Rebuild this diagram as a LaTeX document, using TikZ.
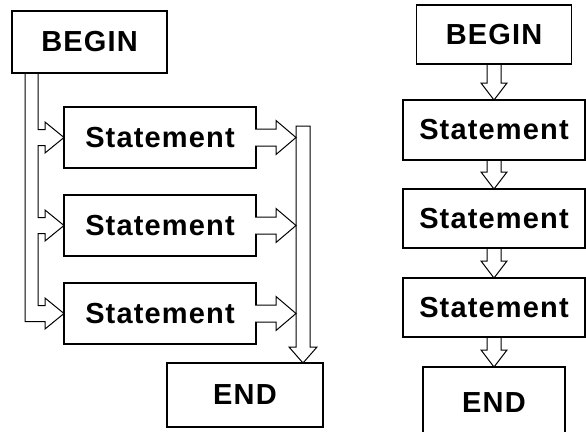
\documentclass[tikz,border=0pt]{standalone}
\usepackage{fontspec}
\setmainfont{Liberation Sans}[LetterSpace=4]
\usepackage{tikz}
\usetikzlibrary{calc,positioning}

\begin{document}
\begin{tikzpicture}[x=1pt,y=-1pt,
	  every node/.style={align=center,font=\bfseries\fontsize{29}{34}\selectfont},
	  box/.style={draw,line width=1.2pt,inner sep=0pt,outer sep=0pt},
	  hollow/.style={draw,line width=1pt,line join=miter}]

	  \useasboundingbox (0,0) rectangle (586,431);

	  % Left flowchart: statements fed in parallel
	  \node[box,minimum width=155pt,minimum height=62pt] (begin1) at (89.5,42) {BEGIN};
	  \node[box,minimum width=192pt,minimum height=61pt] (stmt1a) at (160,137.5) {Statement};
	  \node[box,minimum width=192pt,minimum height=61pt,below=27pt of stmt1a] (stmt2a) {Statement};
	  \node[box,minimum width=192pt,minimum height=61pt,below=27pt of stmt2a] (stmt3a) {Statement};
	  \node[box,minimum width=156pt,minimum height=64pt] (end1) at (245,395) {END};

	  \coordinate (chout) at ($(begin1.south west)+(13,0)$);
	  \coordinate (chin) at ($(begin1.south west)+(26,0)$);
	  \coordinate (bartop) at (303,126);

	  \draw[hollow] (chout) |- ($(stmt3a.west)+(-19,8)$) -- ++(0,7.5) -- (stmt3a.west)
	    -- ($(stmt3a.west)+(-19,-15.5)$) -- ++(0,7.5) -| ($(stmt2a.west)+(-26,8)$)
	    -- ++(7,0) -- ++(0,7.5) -- (stmt2a.west) -- ($(stmt2a.west)+(-19,-15.5)$)
	    -- ++(0,7.5) -| ($(stmt1a.west)+(-26,8)$) -- ++(7,0) -- ++(0,7.5) -- (stmt1a.west)
	    -- ($(stmt1a.west)+(-19,-15.5)$) -- ++(0,7.5) -| (chin);

	  \draw[hollow,fill=white] ($(bartop)+(-7,0)$) -- ($(bartop |- end1.north)+(-7,-16)$)
	    -- ++(-7,0) -- (bartop |- end1.north) -- ($(bartop |- end1.north)+(14,-16)$)
	    -- ++(-7,0) -- ($(bartop)+(7,0)$) -- cycle;

	  \foreach \s in {stmt1a,stmt2a,stmt3a}
	    \draw[hollow,fill=white] ($(\s.east)+(-0.8,-8.5)$) -- ($(\s.east -| bartop)+(-27,-8.5)$)
	      -- ++(0,-8.5) -- ($(\s.east -| bartop)+(-7,0)$) -- ($(\s.east -| bartop)+(-27,17)$)
	      -- ++(0,-8.5) -- ($(\s.east)+(-0.8,8.5)$);

	  % Right flowchart: statements in sequence
	  \node[box,minimum width=155pt,minimum height=59pt] (begin2) at (494,34.5) {BEGIN};
	  \node[box,minimum width=182pt,minimum height=60pt,below=36pt of begin2] (stmt1b) {Statement};
	  \node[box,minimum width=182pt,minimum height=59pt,below=29pt of stmt1b] (stmt2b) {Statement};
	  \node[box,minimum width=182pt,minimum height=59pt,below=30pt of stmt2b] (stmt3b) {Statement};
	  \node[box,minimum width=142pt,minimum height=70pt,below=30pt of stmt3b,
	        text height=21pt,text depth=0pt,yshift=0pt] (end2) {END};

	  \foreach \a/\b in {begin2/stmt1b,stmt1b/stmt2b,stmt2b/stmt3b,stmt3b/end2}
	    \draw[hollow] ($(\a.south)+(-7,0)$) -- ($(\b.north)+(-7,-17)$) -- ++(-6,0)
	      -- (\b.north) -- ($(\b.north)+(13,-17)$) -- ++(-6,0) -- ($(\a.south)+(7,0)$);
\end{tikzpicture}
\end{document}
